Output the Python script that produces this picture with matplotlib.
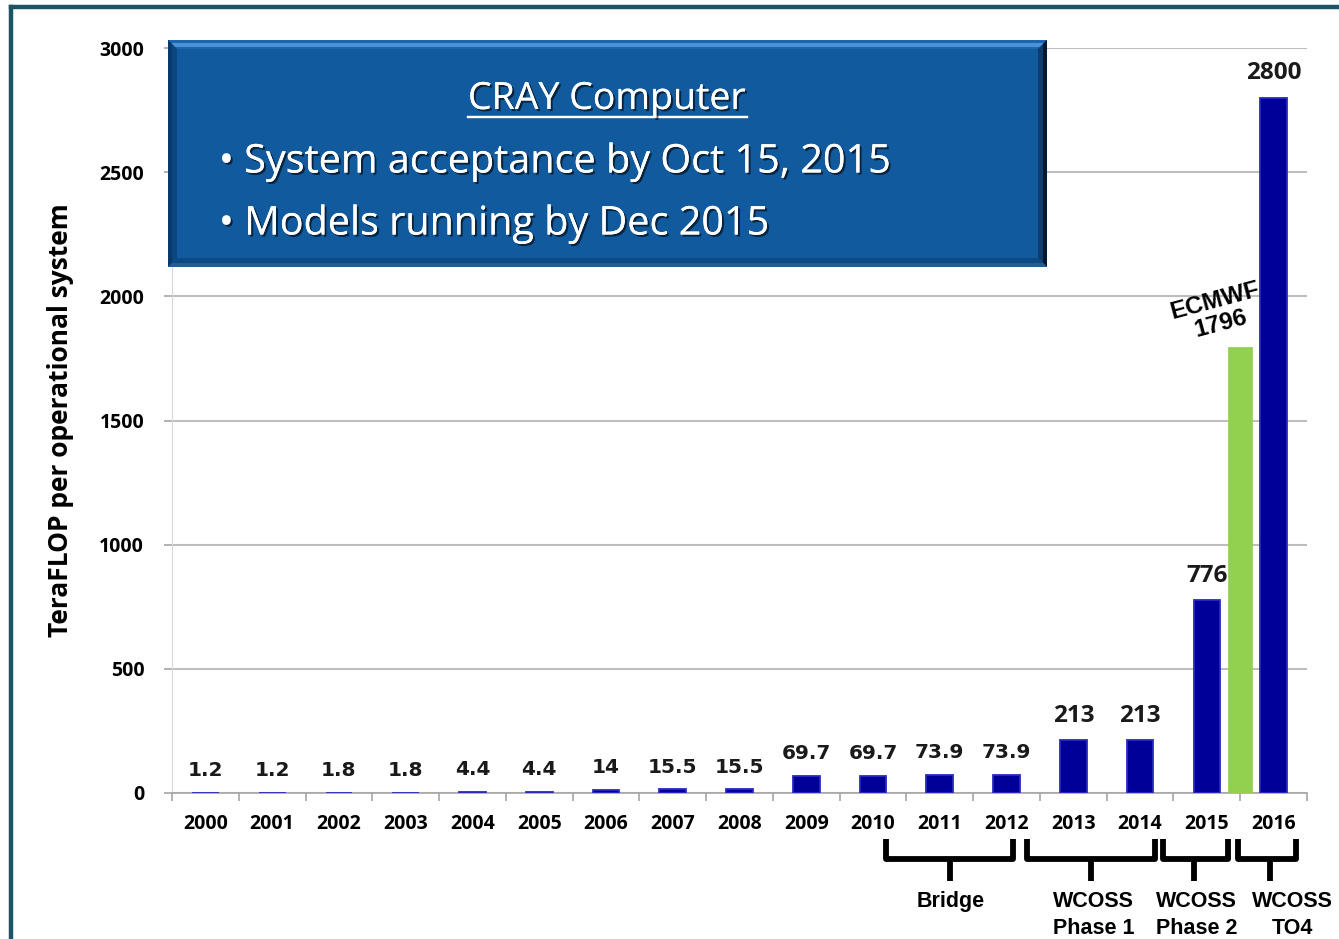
import matplotlib
matplotlib.use("Agg")
import matplotlib.pyplot as plt
import matplotlib.patheffects as pe
from matplotlib.patches import Rectangle, Polygon
from matplotlib.lines import Line2D
from matplotlib.transforms import blended_transform_factory

# ---------------- data ----------------
years = ["2000", "2001", "2002", "2003", "2004", "2005", "2006", "2007", "2008",
         "2009", "2010", "2011", "2012", "2013", "2014", "2015", "2016"]
teraflops = [1.2, 1.2, 1.8, 1.8, 4.4, 4.4, 14, 15.5, 15.5,
             69.7, 69.7, 73.9, 73.9, 213, 213, 776, 2800]
value_labels = ["1.2", "1.2", "1.8", "1.8", "4.4", "4.4", "14", "15.5", "15.5",
                "69.7", "69.7", "73.9", "73.9", "213", "213", "776", "2800"]
ecmwf_value = 1796
ecmwf_label = "ECMWF\n1796"
yticks = [0, 500, 1000, 1500, 2000, 2500, 3000]
ylabel = "TeraFLOP per operational system"
box_title = "CRAY Computer"
box_lines = ["\u2022 System acceptance by Oct 15, 2015", "\u2022 Models running by Dec 2015"]
group_names = ["Bridge", "WCOSS\nPhase 1", "WCOSS\nPhase 2", "WCOSS\nTO4"]
group_start = [10.19, 12.31, 14.35, 15.46]
group_end = [12.09, 14.23, 15.31, 16.34]
group_stem = [11.16, 13.27, 14.81, 15.95]
group_text_x = [11.16, 13.30, 14.85, 16.28]

W, H = 1339, 939
fig = plt.figure(figsize=(W / 100, H / 100), dpi=100)
fig.patch.set_facecolor("white")

LBL_FONT = "Open Sans"

def fx(px):
    return px / W

def fy(py):
    return 1 - py / H

ax = fig.add_axes([fx(172), fy(793), (1307 - 172) / W, (793 - 48) / H])
ax.set_xlim(-0.5, len(years) - 0.5)
ax.set_ylim(0, 3000)

x = list(range(len(years)))
ax.bar(x, teraflops, width=0.4, color="#000099", edgecolor="#2A2ABF",
       linewidth=1.3, zorder=3)
ax.bar([15.5], [ecmwf_value], width=0.36, color="#92D050", edgecolor="#92D050",
       linewidth=0.5, zorder=3)

# gridlines
ax.set_yticks(yticks)
ax.yaxis.grid(True, color="#BEBEBE", linewidth=1.5, zorder=0)
ax.set_axisbelow(True)
for s in ["top", "right"]:
    ax.spines[s].set_visible(False)
ax.spines["left"].set_color("#D8D8D8")
ax.spines["bottom"].set_color("#A6A6A6")
ax.spines["bottom"].set_linewidth(1.2)

ax.set_xticks(x)
ax.set_xticklabels(years, fontfamily=LBL_FONT, fontweight="bold", fontsize=14)
ax.tick_params(axis="x", length=0, pad=15)
ax.set_xticks([i + 0.5 for i in range(-1, len(years))], minor=True)
ax.tick_params(axis="x", which="minor", length=6, color="#A6A6A6", width=1.2)
ax.set_yticklabels([str(t) for t in yticks], fontfamily=LBL_FONT, fontweight="bold",
                   fontsize=14)
ax.tick_params(axis="y", length=6, color="#A6A6A6", width=1.2, pad=14)
ax.set_ylabel(ylabel, fontfamily=LBL_FONT, fontweight="bold", fontsize=19, labelpad=18)

# value labels
for xi, v, lab in zip(x, teraflops, value_labels):
    if v < 100:
        ax.annotate(lab, (xi, v), xytext=(0, 9), textcoords="offset points",
                    ha="center", va="bottom", fontfamily="DejaVu Sans",
                    fontweight="bold", fontsize=14.5, color="#1a1a1a", zorder=5)
    else:
        ax.annotate(lab, (xi, v), xytext=(0, 9), textcoords="offset points",
                    ha="center", va="bottom", fontfamily=LBL_FONT,
                    fontweight="bold", fontsize=17.5, color="#1a1a1a", zorder=5)

ax.annotate(ecmwf_label, (15.5, ecmwf_value), xytext=(-16, 0), textcoords="offset points",
            ha="center", va="bottom", rotation=15, fontfamily="Liberation Sans",
            fontweight="bold", fontsize=17.5, linespacing=1.05, zorder=5)

# brackets below axis
tr = blended_transform_factory(ax.transData, fig.transFigure)
for xs, xe, xc in zip(group_start, group_end, group_stem):
    ln = Line2D([xs, xs, xe, xe], [fy(839), fy(859), fy(859), fy(839)], transform=tr,
                color="black", linewidth=4.2, solid_joinstyle="round",
                solid_capstyle="butt", clip_on=False)
    fig.add_artist(ln)
    st = Line2D([xc, xc], [fy(859), fy(881)], transform=tr, color="black",
                linewidth=4.2, solid_capstyle="butt", clip_on=False)
    fig.add_artist(st)
for name, tx in zip(group_names, group_text_x):
    fig.text(tx, fy(891), name, transform=tr, ha="center", va="top",
             fontfamily="Liberation Sans", fontweight="bold", fontsize=15.5,
             linespacing=1.35)

# ---------------- blue box ----------------
bx0, by0, bx1, by1 = 168, 40, 1047, 267
base = "#115A9E"
fig.add_artist(Rectangle((fx(bx0), fy(by1)), fx(bx1) - fx(bx0), fy(by0) - fy(by1),
                         transform=fig.transFigure, facecolor=base, edgecolor="none",
                         zorder=10))

def poly(pts, color, z=11):
    fig.add_artist(Polygon([(fx(a), fy(b)) for a, b in pts], closed=True,
                           transform=fig.transFigure, facecolor=color,
                           edgecolor="none", zorder=z))

bev = 9
poly([(bx0, by0), (bx1, by0), (bx1 - bev, by0 + bev), (bx0 + bev, by0 + bev)], "#1D66AE")
poly([(bx0 + 3, by0 + 3), (bx1 - 3, by0 + 3), (bx1 - 7, by0 + 7), (bx0 + 7, by0 + 7)], "#4C92D8")
poly([(bx0, by0), (bx0 + bev, by0 + bev), (bx0 + bev, by1 - bev), (bx0, by1)], "#0B4680")
poly([(bx0, by0), (bx0 + 4, by0 + 4), (bx0 + 4, by1 - 4), (bx0, by1)], "#083A6C")
poly([(bx1, by0), (bx1, by1), (bx1 - bev, by1 - bev), (bx1 - bev, by0 + bev)], "#0B3D70")
poly([(bx1, by0), (bx1, by1), (bx1 - 4, by1 - 4), (bx1 - 4, by0 + 4)], "#051A30")
poly([(bx0, by1), (bx0 + bev, by1 - bev), (bx1 - bev, by1 - bev), (bx1, by1)], "#0D4A84")
poly([(bx0, by1), (bx0 + 4, by1 - 4), (bx1 - 4, by1 - 4), (bx1, by1)], "#1D5E96")
fig.add_artist(Rectangle((fx(bx0 + bev), fy(by1 - bev)), fx(bx1 - bev) - fx(bx0 + bev),
                         fy(by0 + bev) - fy(by1 - bev), transform=fig.transFigure,
                         facecolor=base, edgecolor="none", zorder=12))

shadow = [pe.withSimplePatchShadow(offset=(1.5, -1.5), shadow_rgbFace="black", alpha=0.6),
          pe.Normal()]
fig.text(fx(607), fy(99), box_title, ha="center", va="center", color="white",
         fontfamily="Open Sans", fontsize=27, zorder=13, path_effects=shadow)
fig.add_artist(Line2D([fx(468), fx(747)], [fy(117), fy(117)], transform=fig.transFigure,
                      color="white", linewidth=1.6, zorder=13,
                      path_effects=shadow))
fig.text(fx(219), fy(162), box_lines[0], ha="left", va="center", color="white",
         fontfamily="Open Sans", fontsize=28.5, zorder=13, path_effects=shadow)
fig.text(fx(219), fy(224), box_lines[1], ha="left", va="center", color="white",
         fontfamily="Open Sans", fontsize=28.5, zorder=13, path_effects=shadow)

# ---------------- frame ----------------
fig.add_artist(Line2D([fx(11), fx(11)], [0, fy(7)], transform=fig.transFigure,
                      color="#1B5566", linewidth=3.2, zorder=20, solid_capstyle="projecting"))
fig.add_artist(Line2D([fx(11), 1], [fy(7), fy(7)], transform=fig.transFigure,
                      color="#1B5566", linewidth=3.2, zorder=20, solid_capstyle="projecting"))

fig.savefig("out.png", dpi=100)
